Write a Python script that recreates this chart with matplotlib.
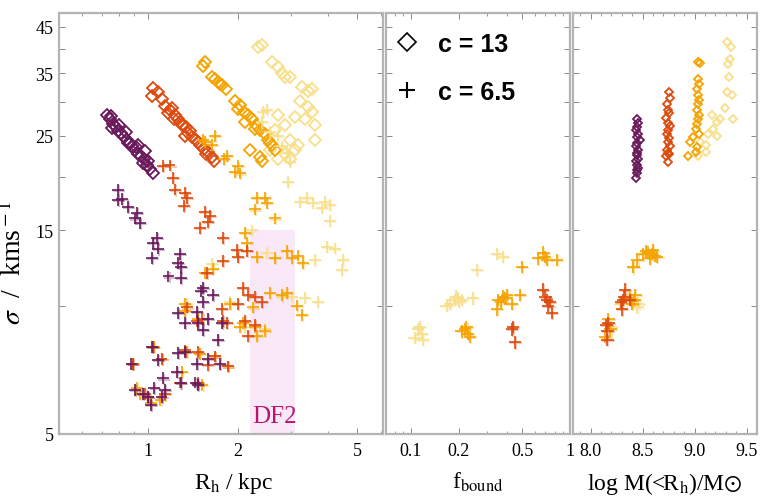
import matplotlib
matplotlib.use("Agg")
import matplotlib.pyplot as plt
import matplotlib.patheffects as pe
from matplotlib.lines import Line2D
from matplotlib.ticker import FixedLocator, FixedFormatter, NullFormatter, MultipleLocator

plt.rcParams['font.family'] = 'Liberation Serif'
plt.rcParams['mathtext.fontset'] = 'stix'

PURPLE = '#6a1a5c'
RED = '#dd4a0e'
ORANGE = '#f5a300'
YELLOW = '#f8df8a'
FRAME = '#b4b4b4'

# ---- left panel: R_h vs sigma, c = 13 (diamonds)
purple_d_R = [0.73, 0.746, 0.764, 0.78, 0.794, 0.81, 0.83, 0.85, 0.87, 0.884, 0.905, 0.926, 0.948,
              0.97, 0.99, 1.015, 1.04, 0.76, 0.845, 0.926, 0.977, 0.75, 0.80, 0.86, 0.91, 0.96, 1.0]
purple_d_s = [27.9, 27.3, 26.7, 26.2, 25.6, 25.4, 24.9, 24.5, 24.1, 23.7, 23.2, 22.7, 22.4,
              22.0, 21.4, 20.9, 20.4, 26.1, 25.5, 23.8, 23.0, 27.8, 26.5, 24.0, 23.5, 21.6, 21.8]
red_d_R = [1.04, 1.08, 1.03, 1.11, 1.14, 1.18, 1.17, 1.23, 1.26, 1.30, 1.34, 1.36, 1.40,
           1.45, 1.49, 1.54, 1.59, 1.64, 1.66, 1.33, 1.22, 1.20, 1.28, 1.38, 1.47, 1.56]
red_d_s = [32.4, 31.6, 31.0, 30.5, 29.4, 28.8, 28.3, 27.9, 27.3, 26.5, 26.2, 25.4, 24.9,
           24.4, 23.8, 23.3, 22.9, 22.3, 21.8, 25.0, 27.3, 29.0, 27.0, 25.6, 24.2, 22.6]
orange_d_R = [1.53, 1.55, 1.64, 1.71, 1.77, 1.82, 1.95, 2.03, 2.09, 2.16, 2.23, 2.30, 2.37,
              2.46, 2.52, 2.60, 2.66, 2.19, 2.37, 2.40, 2.11, 1.68, 1.74, 2.0, 2.27, 2.55]
orange_d_s = [36.4, 37.2, 34.4, 33.5, 32.8, 32.2, 30.2, 29.5, 28.4, 27.9, 27.3, 26.5, 25.8,
              25.3, 24.5, 23.8, 23.2, 23.2, 22.3, 21.8, 27.0, 34.0, 33.0, 28.9, 26.0, 24.0]
yellow_d_R = [2.33, 2.40, 2.60, 2.72, 2.80, 2.87, 2.98, 3.27, 3.43, 3.53, 3.22, 3.43, 3.53, 3.34,
              3.61, 3.10, 2.87, 2.72, 2.66, 2.98, 3.10, 2.87, 2.72, 3.16, 3.61, 2.56, 2.98]
yellow_d_s = [40.3, 40.9, 37.2, 36.3, 35.1, 34.3, 34.3, 32.5, 31.9, 32.2, 30.1, 29.2, 28.5, 27.3,
              26.5, 27.6, 26.5, 28.0, 25.8, 24.5, 23.2, 22.6, 22.0, 23.8, 24.5, 23.2, 22.0]

# ---- left panel: c = 6.5 (crosses)
purple_p_R = [0.794, 0.794, 0.819, 0.857, 0.919, 0.905, 0.94, 1.07, 1.04, 1.08, 1.03, 1.28, 1.26,
              1.29, 1.17, 1.29, 1.53, 1.50, 1.65, 1.53, 1.46, 1.26, 1.33, 1.47, 1.53, 1.59, 1.77,
              1.71, 1.03, 1.08, 0.88, 1.26, 1.33, 1.46, 1.59, 1.74, 1.25, 1.12, 1.29, 0.905, 0.96,
              1.05, 1.14, 1.11, 1.0, 1.02, 1.44, 1.47]
purple_p_s = [18.7, 17.7, 17.8, 17.0, 16.5, 16.0, 15.6, 14.4, 14.0, 13.6, 12.9, 13.2, 12.6,
              12.3, 11.7, 11.6, 11.0, 10.8, 10.6, 10.2, 9.67, 9.62, 9.12, 9.12, 8.77, 9.31, 9.12,
              8.31, 8.0, 7.46, 7.3, 7.73, 7.8, 7.3, 7.5, 7.3, 7.0, 6.75, 6.6, 6.34, 6.2,
              6.4, 6.34, 6.1, 6.1, 5.85, 6.6, 6.5]
red_p_R = [1.12, 1.18, 1.21, 1.23, 1.33, 1.35, 1.32, 1.55, 1.61, 1.59, 1.49, 1.78, 1.98, 2.0,
           2.14, 1.78, 1.57, 2.08, 2.16, 2.28, 2.4, 2.0, 1.77, 1.78, 2.11, 2.28, 2.16, 1.52,
           1.84, 1.46, 1.35, 1.67, 1.59, 1.85, 1.47, 1.33, 1.28, 1.47, 0.89, 1.11, 1.04, 0.98,
           1.0, 1.14]
red_p_s = [21.2, 21.3, 19.9, 18.7, 18.4, 17.9, 17.1, 16.6, 16.2, 15.7, 15.2, 14.4, 13.5, 13.0,
           13.4, 12.7, 11.9, 11.0, 10.6, 10.5, 10.2, 10.1, 9.8, 9.2, 9.2, 9.0, 8.5, 9.3,
           9.1, 9.2, 9.9, 7.6, 7.25, 7.2, 7.8, 7.85, 6.6, 6.6, 7.3, 7.5, 8.0, 6.2,
           6.1, 6.2]
orange_p_R = [1.53, 1.64, 1.67, 1.55, 1.79, 1.84, 1.95, 2.0, 2.03, 2.31, 2.46, 2.5, 2.28, 2.66,
              2.11, 2.14, 2.31, 2.66, 2.91, 3.03, 3.17, 3.30, 1.65, 1.55, 2.56, 2.8, 2.91, 3.15,
              3.27, 2.24, 2.03, 2.28, 2.31, 2.46, 1.88, 2.08, 1.33, 1.33, 1.47, 1.35, 1.49, 1.67,
              1.85, 0.89, 0.92, 1.02, 1.05, 1.11, 1.30, 1.52, 0.94, 1.1]
orange_p_s = [24.5, 23.8, 25.0, 24.2, 22.1, 22.4, 20.6, 21.2, 20.4, 17.9, 17.9, 17.4, 16.8, 16.0,
              14.8, 14.0, 13.0, 12.9, 13.4, 12.9, 13.1, 12.6, 12.2, 11.9, 10.7, 10.6, 10.7, 10.0,
              9.5, 9.9, 8.9, 8.9, 8.5, 8.7, 10.1, 9.1, 10.1, 9.7, 9.3, 7.8, 7.7, 7.6,
              7.2, 7.3, 6.4, 5.9, 8.0, 7.5, 7.0, 6.5, 6.2, 6.0]
yellow_p_R = [2.42, 2.5, 2.4, 2.56, 2.72, 2.8, 2.91, 2.98, 2.94, 3.22, 3.39, 3.56, 3.9, 4.05,
              3.81, 4.05, 2.22, 2.5, 3.61, 3.96, 4.21, 4.49, 4.45, 1.64, 3.03, 3.34, 3.7, 2.46,
              2.11, 1.35, 1.88, 2.8]
yellow_p_s = [28.4, 28.8, 27.0, 25.5, 25.0, 23.6, 22.8, 21.7, 19.5, 17.5, 17.9, 17.4, 17.5, 17.2,
              16.9, 15.8, 15.0, 13.3, 12.8, 13.7, 13.6, 12.8, 12.1, 12.5, 10.5, 10.4, 10.2, 8.8,
              8.9, 10.1, 10.2, 10.5]

# ---- middle panel: f_bound vs sigma (c = 6.5)
mid_yellow_f = [0.111, 0.117, 0.106, 0.119, 0.114, 0.176, 0.189, 0.198, 0.209, 0.246, 0.260,
                0.348, 0.379, 0.168, 0.193, 0.202]
mid_yellow_s = [8.8, 8.6, 8.4, 8.3, 8.9, 10.1, 10.3, 10.4, 10.3, 10.4, 12.1,
                13.2, 13.0, 10.0, 10.5, 10.2]
mid_orange_f = [0.219, 0.228, 0.209, 0.235, 0.224, 0.353, 0.379, 0.402, 0.432, 0.348, 0.485,
                0.50, 0.630, 0.697, 0.718, 0.83, 0.68, 0.39, 0.37]
mid_orange_s = [8.8, 8.6, 8.7, 8.45, 8.9, 10.3, 10.5, 10.6, 10.1, 9.8, 10.6,
                12.3, 12.9, 13.0, 12.8, 12.8, 13.3, 10.4, 10.2]
mid_red_f = [0.677, 0.718, 0.75, 0.772, 0.439, 0.432, 0.451, 0.70, 0.73]
mid_red_s = [10.9, 10.3, 10.2, 9.6, 8.9, 8.8, 8.2, 10.5, 10.0]

# ---- right panel: log M(<R_h) vs sigma
rpurple_d_M = [8.45, 8.46, 8.45, 8.44, 8.46, 8.45, 8.47, 8.45, 8.44, 8.46, 8.45, 8.45, 8.46,
               8.44, 8.45, 8.46, 8.45, 8.45, 8.44]
rpurple_d_s = [27.4, 26.8, 26.2, 25.8, 25.3, 24.8, 24.4, 24.0, 23.6, 23.2, 22.8, 22.5, 22.1,
               21.8, 21.4, 21.0, 20.8, 20.5, 19.9]
rred_d_M = [8.75, 8.76, 8.73, 8.74, 8.75, 8.72, 8.74, 8.76, 8.74, 8.73, 8.75, 8.74, 8.76,
            8.73, 8.74, 8.75, 8.72, 8.74]
rred_d_s = [31.7, 30.6, 29.6, 28.8, 28.2, 27.5, 26.8, 26.3, 25.8, 25.2, 24.7, 24.2, 23.7,
            23.2, 22.8, 22.6, 22.4, 21.7]
rorange_d_M = [9.03, 9.05, 9.03, 9.04, 9.02, 9.03, 9.04, 9.03, 9.02, 9.04, 9.03, 9.02, 9.01,
               8.96, 8.94, 8.98, 9.02, 9.01, 9.04]
rorange_d_s = [37.3, 37.0, 33.9, 33.0, 32.1, 31.2, 30.4, 29.6, 28.8, 28.0, 27.3, 26.6, 25.9,
               24.2, 22.4, 24.8, 23.5, 22.9, 25.3]
ryellow_d_M = [9.31, 9.35, 9.34, 9.32, 9.33, 9.31, 9.36, 9.29, 9.24, 9.22, 9.37, 9.17, 9.18,
               9.13, 9.22, 9.11, 9.05, 9.11, 9.03]
ryellow_d_s = [41.4, 40.4, 37.8, 36.8, 34.4, 31.6, 31.2, 29.1, 27.3, 27.0, 27.4, 27.9, 25.9,
               25.3, 25.0, 23.8, 24.2, 22.9, 22.4]

rorange_p_M = [8.59, 8.50, 8.55, 8.60, 8.64, 8.45, 8.41, 8.57, 8.62, 8.53, 8.43, 8.40, 8.42,
               8.19, 8.14, 8.17, 8.38]
rorange_p_s = [13.2, 13.2, 13.3, 13.5, 13.0, 12.8, 12.3, 12.9, 13.1, 13.4, 10.6, 10.1, 10.3,
               8.8, 8.45, 9.3, 10.4]
rred_p_M = [8.33, 8.31, 8.30, 8.38, 8.32, 8.17, 8.16, 8.16, 8.15, 8.29]
rred_p_s = [10.9, 10.3, 9.8, 10.3, 10.5, 9.1, 8.3, 8.7, 9.0, 10.2]
ryellow_p_M = [8.41, 8.28, 8.46, 8.45, 8.20, 8.36]
ryellow_p_s = [12.3, 10.1, 10.1, 9.9, 8.9, 10.6]

df2_R = (2.2, 3.1)
df2_s = (5, 15)

sigma_ticks = [5, 10, 15, 20, 25, 30, 35, 40, 45]
sigma_labels = ['5', '', '15', '', '25', '', '35', '', '45']


def diamonds(ax, x, y, color, ms):
    ax.plot(x, y, ls='none', marker='D', ms=ms, mfc='none', mec=color, mew=1.3)


def crosses(ax, x, y, color, ms):
    ax.plot(x, y, ls='none', marker='+', ms=ms, mec=color, mew=1.2,
            path_effects=[pe.SimpleLineShadow(offset=(0.8, -0.8), shadow_color=color, alpha=0.35),
                          pe.Normal()])


def style(ax):
    for sp in ax.spines.values():
        sp.set_color(FRAME)
        sp.set_linewidth(1.6)
    ax.tick_params(which='both', direction='in', top=True, right=True, color='#888888',
                   labelsize=13, pad=6)
    ax.tick_params(which='major', length=4, width=0.7)
    ax.tick_params(which='minor', length=2.5, width=0.6)
    ax.set_yscale('log')
    ax.set_ylim(5, 48.5)
    ax.yaxis.set_major_locator(FixedLocator(sigma_ticks))
    ax.yaxis.set_minor_locator(FixedLocator([]))


fig = plt.figure(figsize=(7.7, 5.02), dpi=100)
bottom = 1 - 435 / 502
height = 421 / 502
ax1 = fig.add_axes([59 / 770, bottom, 324 / 770, height])
ax2 = fig.add_axes([386 / 770, bottom, 184 / 770, height])
ax3 = fig.add_axes([573 / 770, bottom, 184 / 770, height])
for ax in (ax1, ax2, ax3):
    style(ax)

# left panel
ax1.fill_between(df2_R, df2_s[0], df2_s[1], color='#f8e8f8', lw=0, zorder=0)
ax1.text(sum(df2_R) / 2, 5.2, 'DF2', color='#b8166e', fontsize=18, ha='center', va='bottom')
diamonds(ax1, yellow_d_R, yellow_d_s, YELLOW, 5.8)
diamonds(ax1, orange_d_R, orange_d_s, ORANGE, 5.8)
diamonds(ax1, red_d_R, red_d_s, RED, 5.8)
diamonds(ax1, purple_d_R, purple_d_s, PURPLE, 5.8)
crosses(ax1, yellow_p_R, yellow_p_s, YELLOW, 8.5)
crosses(ax1, orange_p_R, orange_p_s, ORANGE, 8.5)
crosses(ax1, red_p_R, red_p_s, RED, 8.5)
crosses(ax1, purple_p_R, purple_p_s, PURPLE, 8.5)
ax1.set_xscale('log')
ax1.set_xlim(0.504, 6.1)
ax1.xaxis.set_major_locator(FixedLocator([1, 2, 5]))
ax1.xaxis.set_major_formatter(FixedFormatter(['1', '2', '5']))
ax1.xaxis.set_minor_locator(FixedLocator([0.6, 0.7, 0.8, 0.9, 3, 4, 6]))
ax1.xaxis.set_minor_formatter(NullFormatter())
ax1.yaxis.set_major_formatter(FixedFormatter(sigma_labels))
ax1.tick_params(axis='y', pad=4)
ax1.set_xlabel(r'R$_{\rm h}$ / kpc', fontsize=17)
ax1.xaxis.set_label_coords(0.54, -0.085)
ax1.set_ylabel(r'$\sigma$  /  kms$^{\rm -1}$', fontsize=20)
ax1.yaxis.set_label_coords(-0.1, 0.41)

# middle panel
crosses(ax2, mid_yellow_f, mid_yellow_s, YELLOW, 9)
crosses(ax2, mid_orange_f, mid_orange_s, ORANGE, 9)
crosses(ax2, mid_red_f, mid_red_s, RED, 9)
ax2.set_xscale('log')
ax2.set_xlim(0.07, 1.0)
ax2.xaxis.set_major_locator(FixedLocator([0.1, 0.2, 0.5, 1.0]))
ax2.xaxis.set_major_formatter(FixedFormatter(['0.1', '0.2', '0.5', '1']))
ax2.xaxis.set_minor_locator(FixedLocator([0.08, 0.09, 0.3, 0.4, 0.6, 0.7, 0.8, 0.9]))
ax2.xaxis.set_minor_formatter(NullFormatter())
ax2.yaxis.set_major_formatter(NullFormatter())
ax2.set_xlabel(r'f$_{\rm bound}$', fontsize=17)
ax2.xaxis.set_label_coords(0.5, -0.085)

handles = [Line2D([], [], ls='none', marker='D', ms=8.7, mfc='none', mec='black', mew=1.2),
           Line2D([], [], ls='none', marker='+', ms=12, mec='black', mew=1.5)]
ax2.legend(handles, ['c = 13', 'c = 6.5'], loc='upper left', bbox_to_anchor=(0.045, 0.955),
           frameon=False, borderpad=0, borderaxespad=0, handlelength=1.0, handletextpad=0.75,
           labelspacing=0.97, prop=dict(family='Liberation Sans', weight='bold', size=18))

# right panel
diamonds(ax3, ryellow_d_M, ryellow_d_s, YELLOW, 3.8)
diamonds(ax3, rorange_d_M, rorange_d_s, ORANGE, 3.8)
diamonds(ax3, rred_d_M, rred_d_s, RED, 3.8)
diamonds(ax3, rpurple_d_M, rpurple_d_s, PURPLE, 3.8)
crosses(ax3, ryellow_p_M, ryellow_p_s, YELLOW, 9)
crosses(ax3, rorange_p_M, rorange_p_s, ORANGE, 9)
crosses(ax3, rred_p_M, rred_p_s, RED, 9)
ax3.set_xlim(7.83, 9.6)
ax3.xaxis.set_major_locator(FixedLocator([8.0, 8.5, 9.0, 9.5]))
ax3.xaxis.set_major_formatter(FixedFormatter(['8.0', '8.5', '9.0', '9.5']))
ax3.xaxis.set_minor_locator(MultipleLocator(0.1))
ax3.yaxis.set_major_formatter(NullFormatter())
ax3.set_xlabel(r'log M(<R$_{\rm h}$)/M$\odot$', fontsize=17)
ax3.xaxis.set_label_coords(0.5, -0.085)

fig.savefig('out.png', dpi=100)
